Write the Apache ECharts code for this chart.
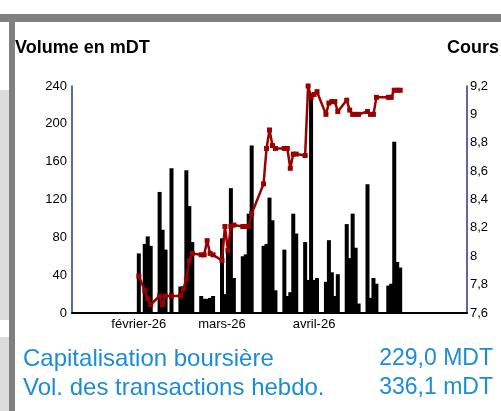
<!DOCTYPE html>
<html>
<head>
<meta charset="utf-8">
<script src="https://cdn.jsdelivr.net/npm/echarts@6/dist/echarts.min.js"></script>
<style>
  html, body { margin: 0; padding: 0; background: #fff; }
  #chart { width: 501px; height: 411px; }
</style>
</head>
<body>
<div id="chart"></div>
<script>
// calendar days on the axis, first trading day is day 22
const totalDays = 133
const firstDay = 22
const monthLabels = { 22: 'février-26', 50: 'mars-26', 81: 'avril-26' }

// daily volume in mDT (null = no session), weeks of 7 days from firstDay
const volumes = [
  63, null, 73, 81, 71, null, null,
  128, 88, 67, null, 153, null, null,
  28, 28, 151, 113, 75, null, null,
  18, 15, 15, 16, 18, null, null,
  79, 20, 64, 132, 37, null, null,
  60, 62, 105, 177, null, null, null,
  71, 73, 122, 98, 24, null, null,
  67, 18, 22, 105, 84, null, null,
  75, 35, 232, 35, 37, null, null,
  33, 77, 43, 18, 41, null, null,
  94, 58, 105, 69, 10, null, null,
  136, 16, 37, 31, null, null, null,
  29, 31, 181, 54, 48
]

// closing price (cours)
const cours = [
  7.86, null, 7.76, 7.70, 7.66, null, null,
  7.72, 7.66, 7.72, null, 7.72, null, null,
  7.72, 7.77, 7.84, 7.97, 8.02, null, null,
  8.01, 8.01, 8.11, 8.02, 8.01, null, null,
  7.97, 8.21, 8.04, 8.21, 8.22, null, null,
  8.21, 8.21, 8.21, 8.30, null, null, null,
  8.51, 8.76, 8.89, 8.78, 8.76, null, null,
  8.76, 8.76, 8.62, 8.72, 8.72, null, null,
  8.71, 9.20, 9.12, 9.14, 9.16, null, null,
  9.00, 9.08, 9.09, 9.09, 9.02, null, null,
  9.10, 9.03, 9.00, 9.00, 9.00, null, null,
  9.02, 9.00, 9.00, 9.12, null, null, null,
  9.12, 9.12, 9.17, 9.17, 9.17
]

const days = Array.from({ length: totalDays }, (_, i) => String(i))
const pad = (arr) => {
  const out = new Array(totalDays).fill(null)
  arr.forEach((v, k) => { out[firstDay + k] = v })
  return out
}

const font = '"Liberation Sans", Arial, sans-serif'
const blue = '#1b8dd6'
const axisBlue = '#2a3580'

const chart = echarts.init(document.getElementById('chart'))

chart.setOption({
  animation: false,
  backgroundColor: '#fff',
  grid: { left: 72, right: 34, top: 86, bottom: 98 },
  xAxis: {
    type: 'category',
    data: days,
    axisLine: { lineStyle: { color: '#000', width: 2 } },
    axisTick: { show: false },
    axisLabel: {
      interval: (idx) => idx in monthLabels,
      formatter: (v) => monthLabels[v] || '',
      color: '#000',
      fontSize: 13,
      fontFamily: font,
      margin: 5
    },
    splitLine: { show: false }
  },
  yAxis: [
    {
      type: 'value',
      min: 0,
      max: 240,
      interval: 40,
      axisLine: { show: true, lineStyle: { color: axisBlue, width: 1.5 } },
      axisTick: { show: false },
      splitLine: { show: false },
      axisLabel: { color: '#000', fontSize: 13, fontFamily: font, margin: 5 }
    },
    {
      type: 'value',
      min: 7.6,
      max: 9.2,
      interval: 0.2,
      position: 'right',
      axisLine: { show: true, lineStyle: { color: axisBlue, width: 1.5 } },
      axisTick: { show: false },
      splitLine: { show: false },
      axisLabel: {
        color: '#000',
        fontSize: 13,
        fontFamily: font,
        margin: 3,
        formatter: (v) => String(Math.round(v * 10) / 10).replace('.', ',')
      }
    }
  ],
  series: [
    {
      name: 'Volume',
      type: 'bar',
      data: pad(volumes),
      barWidth: 4,
      itemStyle: { color: '#000' }
    },
    {
      name: 'Cours',
      type: 'line',
      yAxisIndex: 1,
      data: pad(cours),
      connectNulls: true,
      showAllSymbol: true,
      symbol: 'rect',
      symbolSize: 5,
      lineStyle: { color: '#990000', width: 2.5 },
      itemStyle: { color: '#990000' }
    }
  ],
  graphic: [
    // frame
    { type: 'rect', shape: { x: 0, y: 14, width: 501, height: 8 }, style: { fill: '#808080' } },
    { type: 'rect', shape: { x: 9, y: 14, width: 6, height: 397 }, style: { fill: '#808080' } },
    { type: 'rect', shape: { x: 0, y: 90, width: 9, height: 230 }, style: { fill: '#dcdcdc' } },
    { type: 'rect', shape: { x: 0, y: 337, width: 9, height: 74 }, style: { fill: '#dcdcdc' } },
    // headers
    { type: 'text', style: { text: 'Volume en mDT', x: 15, y: 48, font: 'bold 18px ' + font, fill: '#000', textVerticalAlign: 'middle' } },
    { type: 'text', style: { text: 'Cours', x: 447, y: 48, font: 'bold 18px ' + font, fill: '#000', textVerticalAlign: 'middle' } },
    // footer
    { type: 'text', style: { text: 'Capitalisation boursière', x: 23, y: 359, font: '24px ' + font, fill: blue, textVerticalAlign: 'middle' } },
    { type: 'text', style: { text: '229,0 MDT', x: 493, y: 359, font: '23px ' + font, fill: blue, textAlign: 'right', textVerticalAlign: 'middle' } },
    { type: 'text', style: { text: 'Vol. des transactions hebdo.', x: 23, y: 388, font: '24px ' + font, fill: blue, textVerticalAlign: 'middle' } },
    { type: 'text', style: { text: '336,1 mDT', x: 493, y: 388, font: '23px ' + font, fill: blue, textAlign: 'right', textVerticalAlign: 'middle' } }
  ]
})
</script>
</body>
</html>
